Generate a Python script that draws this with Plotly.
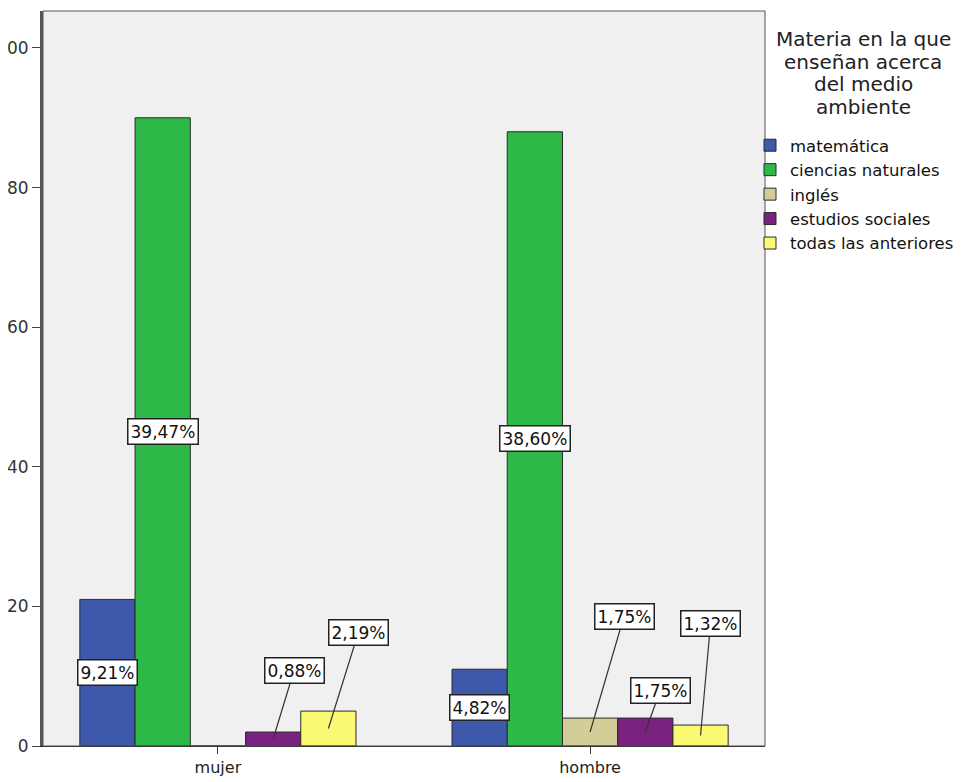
import plotly.graph_objects as go

# ---- data ----
sexo = ["mujer", "hombre"]
materias = ["matemática", "ciencias naturales", "inglés", "estudios sociales", "todas las anteriores"]
recuento_mujer = [21, 90, 0, 2, 5]
recuento_hombre = [11, 88, 4, 4, 3]
pct_mujer = ["9,21%", "39,47%", None, "0,88%", "2,19%"]
pct_hombre = ["4,82%", "38,60%", "1,75%", "1,75%", "1,32%"]
y_ticks = [0, 20, 40, 60, 80, 100]
y_ticktext = ["0", "20", "40", "60", "80", "100"]
legend_title_lines = ["Materia en la que", "enseñan acerca", "del medio", "ambiente"]

# ---- styling ----
colors = ["#3E58AC", "#2EB848", "#D3CE97", "#7B2281", "#FBF873"]
bargap = 0.258
n = len(materias)
w = (1 - bargap) / n
FONT = "DejaVu Sans, Liberation Sans, Arial, sans-serif"

W, H = 956, 774          # page adds an 8px body margin
L, R, T, B = 35, 199, 3, 36
plot_h = H - T - B
plot_w = W - L - R

# label placement (pixel offsets from bar mid-point); None = centered inside bar
offs_mujer = [None, None, None, (21, -69), (30, -96)]
offs_hombre = [None, None, (34, -116), (15, -42), (10, -112)]

fig = go.Figure()
for i, m in enumerate(materias):
    fig.add_trace(go.Bar(
        name=m, x=sexo, y=[recuento_mujer[i], recuento_hombre[i]],
        marker=dict(color=colors[i], line=dict(color="#2a2a2a", width=1)),
    ))

annotations = []
for c, (vals, pcts, offs) in enumerate([(recuento_mujer, pct_mujer, offs_mujer),
                                        (recuento_hombre, pct_hombre, offs_hombre)]):
    for i in range(n):
        if pcts[i] is None:
            continue
        xpos = c + (i - (n - 1) / 2) * w
        ypos = vals[i] / 2
        a = dict(x=xpos, y=ypos, xref="x", yref="y", text=pcts[i],
                 font=dict(family=FONT, size=17, color="#111111"),
                 bgcolor="white", bordercolor="#222222", borderwidth=1.5, borderpad=2)
        if offs[i] is None:
            a.update(showarrow=False)
        else:
            a.update(showarrow=True, arrowhead=0, arrowwidth=1.2, arrowcolor="#333333",
                     ax=offs[i][0], ay=offs[i][1], standoff=0, startstandoff=0)
        annotations.append(a)

# legend title: centered lines above the legend
title_cx = (855 - L) / plot_w
for k, line in enumerate(legend_title_lines):
    yf = 31 + 22.7 * k
    annotations.append(dict(text=line, xref="paper", yref="paper", x=title_cx,
                            y=(H - B - yf) / plot_h, xanchor="center", yanchor="middle",
                            showarrow=False,
                            font=dict(family=FONT, size=20, color="#222222")))

fig.update_layout(
    width=W, height=H,
    margin=dict(l=L, r=R, t=T, b=B, autoexpand=False),
    paper_bgcolor="white", plot_bgcolor="#F0F0F0",
    barmode="group", bargap=bargap, bargroupgap=0,
    font=dict(family=FONT, size=17, color="#222222"),
    showlegend=True,
    legend=dict(
        x=(742 - L) / plot_w, xanchor="left", y=(H - B - 120) / plot_h, yanchor="top",
        font=dict(family=FONT, size=16.5, color="#111111"),
        bgcolor="rgba(0,0,0,0)", tracegroupgap=0, itemwidth=30,
    ),
    annotations=annotations,
    shapes=[dict(type="rect", xref="paper", yref="paper", x0=0, x1=1, y0=0, y1=1,
                 line=dict(color="#555555", width=1), layer="above")],
)
fig.update_xaxes(type="category", range=[-0.47, 1.47], showline=True, linecolor="#222222",
                 linewidth=1, ticks="outside", ticklen=7, tickcolor="#333333",
                 showgrid=False, zeroline=False, automargin=False,
                 tickfont=dict(family=FONT, size=16, color="#222222"))
fig.update_yaxes(range=[0, 105.3], tickvals=y_ticks, ticktext=y_ticktext, showline=True,
                 linecolor="#555555", linewidth=3, ticks="outside", ticklen=8,
                 tickcolor="#444444", showgrid=False, zeroline=False, automargin=False,
                 tickfont=dict(family=FONT, size=17, color="#333333"))

fig.write_html("out.html")
